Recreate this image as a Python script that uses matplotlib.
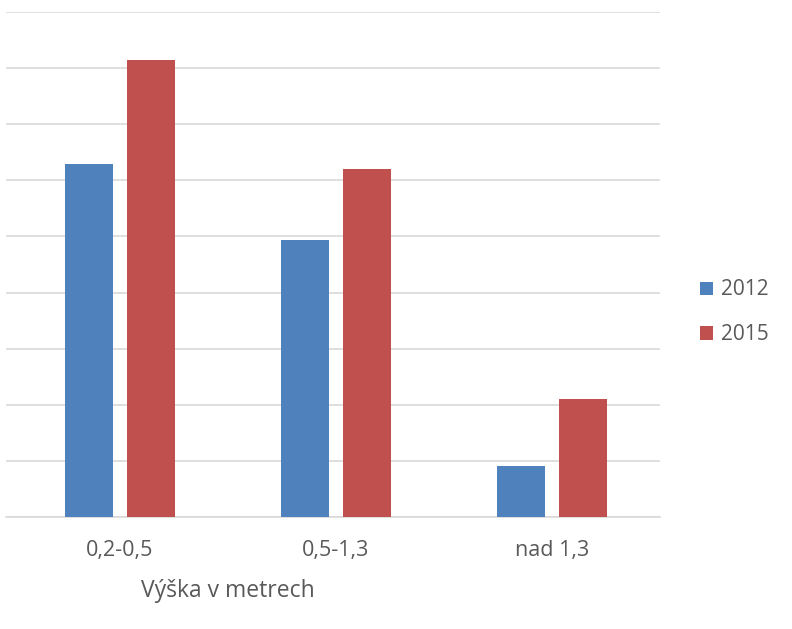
import matplotlib.pyplot as plt
import numpy as np

# ----------------------------
# Data
# ----------------------------
categories = ["0,2-0,5", "0,5-1,3", "nad 1,3"]
series_names = ["2012", "2015"]
values_2012 = [6.30, 4.93, 0.91]
values_2015 = [8.15, 6.21, 2.10]

# ----------------------------
# Plot styling
# ----------------------------
plt.rcParams.update({"font.family": ["Open Sans", "DejaVu Sans"]})
text_color = "#595959"

fig = plt.figure(figsize=(7.92, 6.29), dpi=100)
ax = fig.add_axes([6 / 792, 1 - 517 / 629, 654 / 792, 505 / 629])

x = np.arange(len(categories))
width = 0.222
offset = 0.1435

ax.bar(x - offset, values_2012, width, color="#4F81BD", label=series_names[0], zorder=3)
ax.bar(x + offset, values_2015, width, color="#C0504D", label=series_names[1], zorder=3)

ax.set_xlim(-0.528, 2.5)
ax.set_ylim(0, 9)
ax.set_yticks(np.arange(0, 10))
ax.yaxis.grid(True, color="#D9D9D9", linewidth=1.2, zorder=0)
ax.tick_params(axis="y", left=False, labelleft=False)
ax.tick_params(axis="x", bottom=False, labelsize=15.5, labelcolor=text_color, pad=13)
ax.set_xticks(x)
ax.set_xticklabels(categories)
for side in ["top", "right", "left"]:
    ax.spines[side].set_visible(False)
ax.spines["bottom"].set_color("#D9D9D9")
ax.spines["bottom"].set_linewidth(1.2)

ax.set_xlabel("Výška v metrech", fontsize=16.5, color=text_color)
ax.xaxis.set_label_coords(222 / 654, -0.122)

ax.legend(
    loc="center left",
    bbox_to_anchor=(1.033, 0.405),
    frameon=False,
    fontsize=15,
    labelcolor=text_color,
    handlelength=0.6,
    handleheight=0.6,
    handletextpad=0.4,
    labelspacing=1.15,
)

plt.savefig("out.png", dpi=100)
